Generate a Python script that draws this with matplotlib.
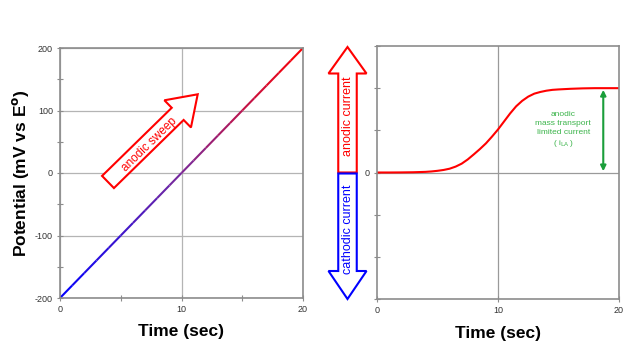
import numpy as np
import matplotlib
matplotlib.use("Agg")
import matplotlib.pyplot as plt
import matplotlib.patches as patches
import matplotlib.transforms as mtransforms
from matplotlib.collections import LineCollection
from matplotlib.colors import LinearSegmentedColormap

plt.rcParams['font.family'] = ['Liberation Sans', 'DejaVu Sans']
plt.rcParams['axes.unicode_minus'] = False

# datos
tiempo = [0, 1, 2, 3, 4, 5, 6, 7, 8, 9, 10, 11, 12, 13, 14, 15, 16, 17, 18, 19, 20]
potencial = [-200, -180, -160, -140, -120, -100, -80, -60, -40, -20, 0,
             20, 40, 60, 80, 100, 120, 140, 160, 180, 200]
tiempo_i = [0, 1, 2, 3, 4, 4.5, 5, 5.5, 6, 6.5, 7, 7.5, 8, 8.5, 9, 9.5, 10,
            10.5, 11, 11.5, 12, 12.5, 13, 13.5, 14, 14.5, 15, 16, 17, 18, 19, 20]
corriente = [0.0, 0.0, 0.002, 0.006, 0.015, 0.025, 0.04, 0.06, 0.09, 0.14, 0.21,
             0.31, 0.43, 0.555, 0.69, 0.85, 1.02, 1.21, 1.40, 1.57, 1.70, 1.80,
             1.87, 1.91, 1.94, 1.96, 1.97, 1.985, 1.995, 2.0, 2.0, 2.0]
ticks_x = [0, 10, 20]
ticks_y_izq = [-200, -100, 0, 100, 200]

gris_eje = '#8c8c8c'
gris_rejilla = '#b4b4b4'
rojo = '#ff0000'
azul = '#0000ff'
verde_flecha = '#1a9e3a'
verde_texto = '#3cb44b'

fig = plt.figure(figsize=(6.4, 3.6), dpi=100)
# coordenadas en pixeles de la imagen (y hacia abajo)
px = mtransforms.Affine2D().scale(1 / 640, -1 / 360).translate(0, 1) + fig.transFigure


def estilo_ejes(ax):
    for s in ax.spines.values():
        s.set_color(gris_eje)
        s.set_linewidth(1.2)
    ax.tick_params(direction='inout', length=4, width=0.8, color=gris_eje,
                   labelsize=6.5, labelcolor='#333333', pad=3)
    ax.tick_params(which='minor', direction='inout', length=4, width=0.8, color=gris_eje)


# ---- panel izquierdo ----
ax1 = fig.add_axes([60 / 640, 1 - 298 / 360, 243 / 640, 250 / 360])
pts = np.column_stack([tiempo, potencial]).reshape(-1, 1, 2)
segs = np.concatenate([pts[:-1], pts[1:]], axis=1)
cmap = LinearSegmentedColormap.from_list('br', [azul, '#7a2a9a', rojo])
lc = LineCollection(segs, cmap=cmap, linewidth=1.5)
lc.set_array(np.array(potencial[:-1]) + 10)
lc.set_clim(-200, 200)
ax1.add_collection(lc)
ax1.set_xlim(0, 20)
ax1.set_ylim(-200, 200)
ax1.set_xticks(ticks_x)
ax1.set_yticks(ticks_y_izq)
ax1.set_xticks([5, 15], minor=True)
ax1.set_yticks([-150, -50, 50, 150], minor=True)
ax1.grid(True, which='major', color=gris_rejilla, linewidth=0.9)
ax1.set_axisbelow(True)
estilo_ejes(ax1)
ax1.set_xlabel('Time (sec)', fontsize=12.5, fontweight='bold', labelpad=7)
ax1.set_ylabel('Potential (mV vs E$\\mathbf{^o}$)', fontsize=12.5, fontweight='bold', labelpad=3)

# flecha "anodic sweep"
ang = np.degrees(np.arctan2(87.7, 89.7))
flecha = patches.FancyArrow(108, 182, 89.7, -87.7, width=17, head_width=38,
                            head_length=28, length_includes_head=True,
                            facecolor='white', edgecolor=rojo, linewidth=1.5,
                            transform=px, zorder=5)
fig.add_artist(flecha)
fig.text(149.5 / 640, 1 - 144.5 / 360, 'anodic sweep', color=rojo, fontsize=8.5,
         rotation=ang, ha='center', va='center', rotation_mode='anchor', zorder=6)

# ---- panel derecho ----
ax2 = fig.add_axes([377 / 640, 1 - 299 / 360, 242 / 640, 253 / 360])
ax2.plot(tiempo_i, corriente, color=rojo, linewidth=1.5, solid_joinstyle='round')
ax2.set_xlim(0, 20)
ax2.set_ylim(-3, 3)
ax2.set_xticks(ticks_x)
ax2.set_yticks([-3, -2, -1, 0, 1, 2, 3])
ax2.set_yticklabels(['', '', '', '0', '', '', ''])
ax2.axvline(10, color='#9a9a9a', linewidth=0.9, zorder=0)
ax2.axhline(0, color='#9a9a9a', linewidth=0.9, zorder=0)
estilo_ejes(ax2)
ax2.set_xlabel('Time (sec)', fontsize=12.5, fontweight='bold', labelpad=8)

# flecha verde de corriente limite
ax2.annotate('', xy=(18.7, 1.96), xytext=(18.7, 0.03),
             arrowprops=dict(arrowstyle='<|-|>', color=verde_flecha, lw=1.5,
                             mutation_scale=8, shrinkA=0, shrinkB=0))
ax2.text(15.4, 1.0, 'anodic\nmass transport\nlimited current\n( i$_{\\mathrm{LA}}$ )',
         color=verde_texto, fontsize=6, ha='center', va='center', linespacing=1.35)

# flechas de corriente anodica / catodica
arriba = patches.FancyArrow(347.5, 172.5, 0, -125.5, width=18.5, head_width=38,
                            head_length=26.5, length_includes_head=True,
                            facecolor='white', edgecolor=rojo, linewidth=1.5, transform=px)
abajo = patches.FancyArrow(347.5, 173.5, 0, 125.5, width=18.5, head_width=38,
                           head_length=28, length_includes_head=True,
                           facecolor='white', edgecolor=azul, linewidth=1.5, transform=px)
fig.add_artist(arriba)
fig.add_artist(abajo)
fig.text(348 / 640, 1 - 116 / 360, 'anodic current', color=rojo, fontsize=9,
         rotation=90, ha='center', va='center')
fig.text(348 / 640, 1 - 229 / 360, 'cathodic current', color=azul, fontsize=9,
         rotation=90, ha='center', va='center')

fig.savefig('out.png', dpi=100)
